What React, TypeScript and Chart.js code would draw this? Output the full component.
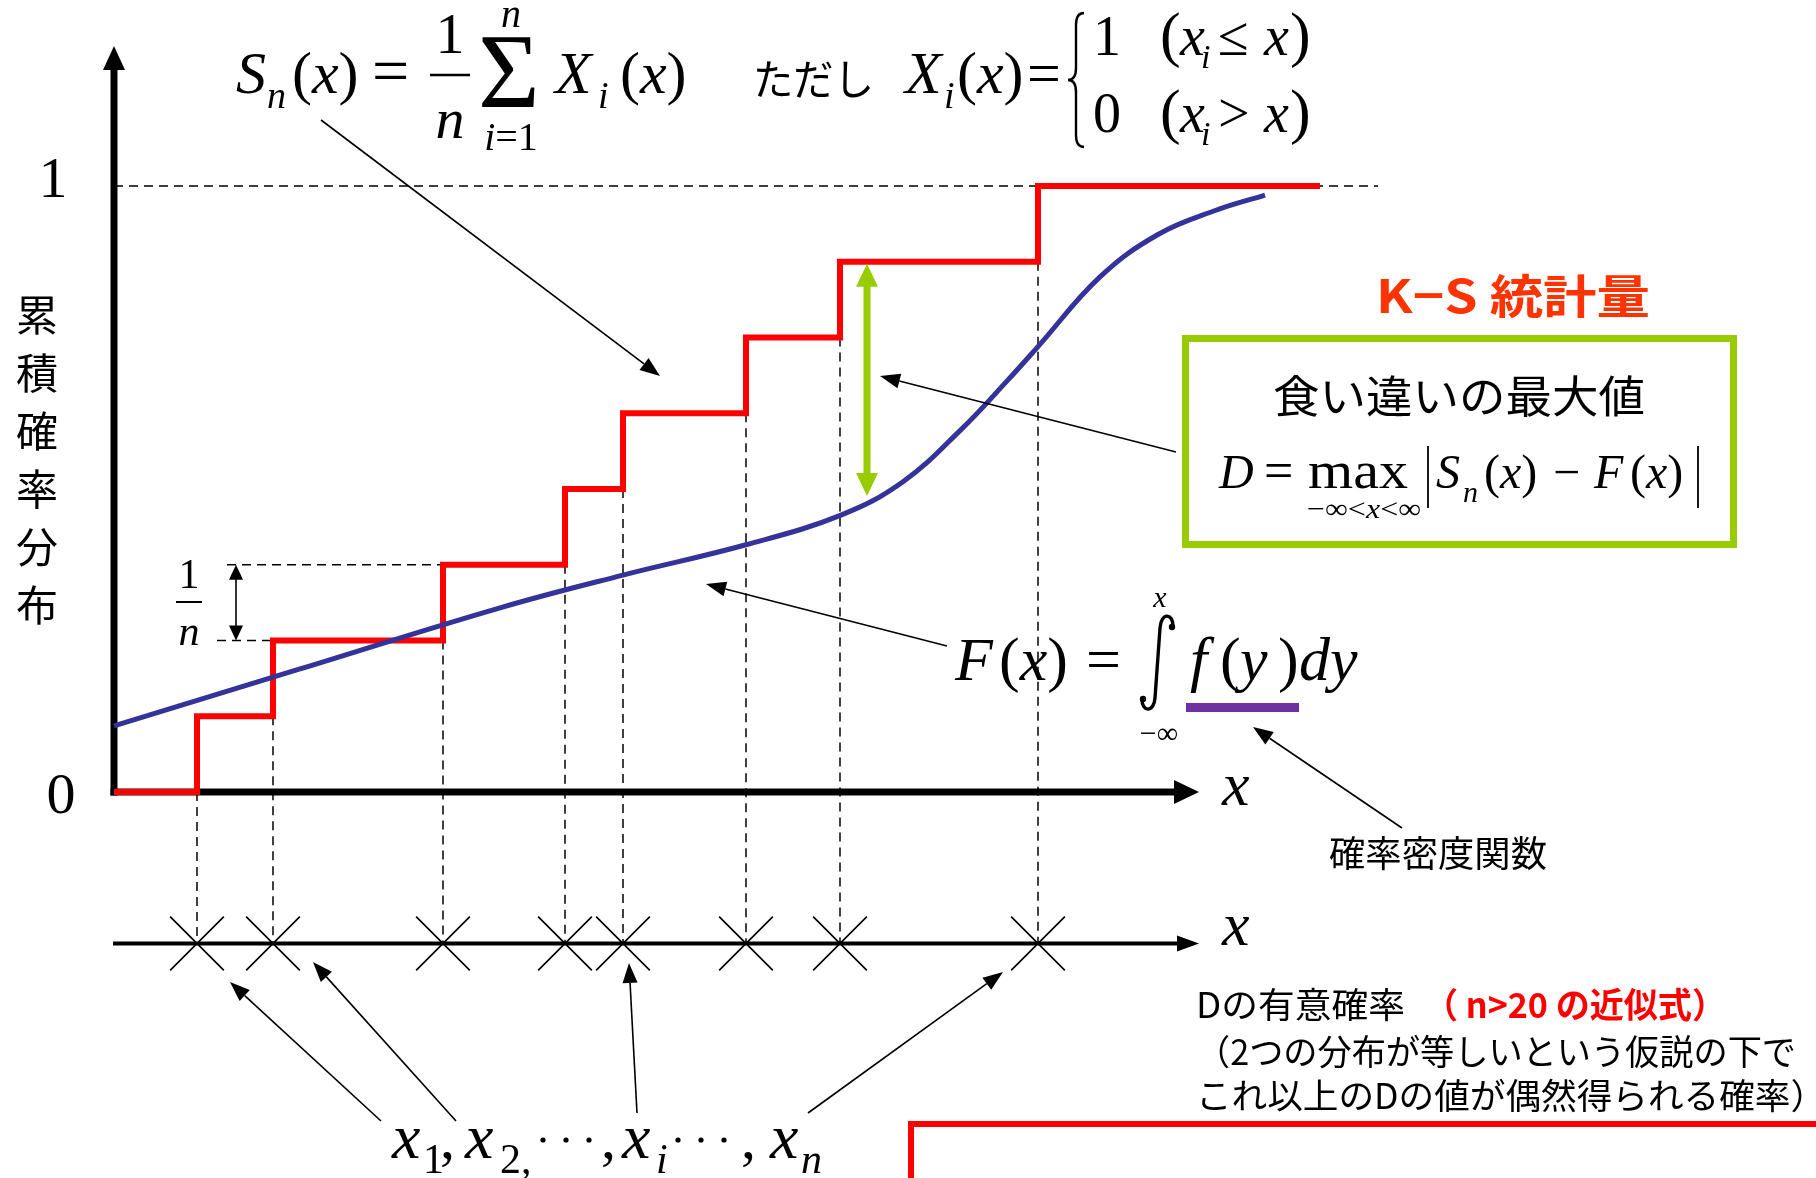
import React, { useEffect, useRef } from 'react';
import { Chart, registerables } from 'chart.js';
Chart.register(...registerables);

// ---- data ----
// observed samples x1..xn on the horizontal axis (arbitrary units)
const sampleX = [0.83, 1.59, 3.29, 4.51, 5.09, 6.32, 7.26, 9.24];
// empirical CDF level reached at each sample (k/n, n = 8)
const ecdfLevels = [0.125, 0.25, 0.375, 0.5, 0.625, 0.75, 0.875, 1.0];
const ecdfRange = [0, 12.06];
// smooth theoretical CDF F(x)
const cdfX = [0, 1.86, 3.86, 5.09, 6.32, 7.27, 7.89, 8.47, 8.94, 9.24, 9.86, 10.44, 11.02, 11.51];
const cdfY = [0.109, 0.203, 0.304, 0.358, 0.408, 0.457, 0.512, 0.598, 0.68, 0.735, 0.85, 0.92, 0.96, 0.985];
// y tick labels
const yTickValues = [0, 1];
const yTickLabels = ['0', '1'];
const axisTitleChars = ['累', '積', '確', '率', '分', '布'];
// 1/n guides
const unitGuideLevels = [0.25, 0.375];
const unitGuideStart = [1.03, 1.13];
const unitArrowX = 1.22;
// maximum discrepancy D
const dMaxX = 7.53;
const dMaxRange = [0.485, 0.875];
const oneLineEnd = 12.64;
const obsAxisY = -0.25;
const xAxisEnd = 10.85;
const yAxisTop = 1.231;

// scale window
const X_MIN = -1.14, X_MAX = 17.02;
const Y_MAX = 792 / 606;
const Y_MIN = Y_MAX - 1178 / 606;

const SERIF = '"Liberation Serif", "Times New Roman", serif';
const SANS = '"Noto Sans CJK JP", "Noto Sans", sans-serif';
const I = (s: number) => `italic ${s}px ${SERIF}`;
const R = (s: number) => `${s}px ${SERIF}`;

function T(ctx: CanvasRenderingContext2D, s: string, x: number, y: number, font: string,
  o: { color?: string; align?: CanvasTextAlign; base?: CanvasTextBaseline; w?: number } = {}) {
  ctx.save();
  ctx.font = font;
  ctx.fillStyle = o.color || '#000';
  ctx.textAlign = o.align || 'left';
  ctx.textBaseline = o.base || 'alphabetic';
  if (o.w) {
    const m = ctx.measureText(s).width;
    ctx.translate(x, y);
    ctx.scale(o.w / m, 1);
    ctx.fillText(s, 0, 0);
  } else ctx.fillText(s, x, y);
  ctx.restore();
}

function run(ctx: CanvasRenderingContext2D, parts: [string, string][], x: number, y: number, align = 'left', w = 0) {
  ctx.save();
  ctx.textBaseline = 'alphabetic';
  ctx.textAlign = 'left';
  ctx.fillStyle = '#000';
  let total = 0;
  for (const [s, f] of parts) { ctx.font = f; total += ctx.measureText(s).width; }
  const k = w ? w / total : 1;
  let cx = align === 'center' ? x - (total * k) / 2 : x;
  ctx.translate(cx, y);
  ctx.scale(k, 1);
  let ox = 0;
  for (const [s, f] of parts) { ctx.font = f; ctx.fillText(s, ox, 0); ox += ctx.measureText(s).width; }
  ctx.restore();
}

function head(ctx: CanvasRenderingContext2D, x1: number, y1: number, x2: number, y2: number, len: number, hw: number) {
  const a = Math.atan2(y2 - y1, x2 - x1);
  const c = Math.cos(a), s = Math.sin(a);
  const bx = x2 - len * c, by = y2 - len * s;
  ctx.beginPath();
  ctx.moveTo(x2, y2);
  ctx.lineTo(bx - hw * s, by + hw * c);
  ctx.lineTo(bx + hw * s, by - hw * c);
  ctx.closePath();
  ctx.fill();
  return [bx, by];
}

function arrow(ctx: CanvasRenderingContext2D, x1: number, y1: number, x2: number, y2: number,
  lw = 1.6, len = 20, hw = 7.5, color = '#000') {
  ctx.save();
  ctx.strokeStyle = color; ctx.fillStyle = color; ctx.lineWidth = lw;
  const [bx, by] = head(ctx, x1, y1, x2, y2, len, hw);
  ctx.beginPath(); ctx.moveTo(x1, y1); ctx.lineTo(bx, by); ctx.stroke();
  ctx.restore();
}

function dblArrow(ctx: CanvasRenderingContext2D, x: number, y1: number, y2: number,
  lw: number, len: number, hw: number, color: string) {
  ctx.save();
  ctx.strokeStyle = color; ctx.fillStyle = color; ctx.lineWidth = lw;
  head(ctx, x, y2, x, y1, len, hw);
  head(ctx, x, y1, x, y2, len, hw);
  ctx.beginPath(); ctx.moveTo(x, y1 + len - 1); ctx.lineTo(x, y2 - len + 1); ctx.stroke();
  ctx.restore();
}

const annot = {
  id: 'annot',
  beforeDraw(chart: any) {
    const c = chart.ctx;
    c.save(); c.fillStyle = '#fff'; c.fillRect(0, 0, chart.width, chart.height); c.restore();
  },
  beforeDatasetsDraw(chart: any) {
    const ctx: CanvasRenderingContext2D = chart.ctx;
    const X = (v: number) => chart.scales.x.getPixelForValue(v);
    const Y = (v: number) => chart.scales.y.getPixelForValue(v);
    ctx.save();
    ctx.strokeStyle = '#000'; ctx.fillStyle = '#000';
    // y axis
    ctx.lineWidth = 7;
    ctx.beginPath(); ctx.moveTo(X(0), Y(0) + 3.5); ctx.lineTo(X(0), Y(yAxisTop) + 20); ctx.stroke();
    head(ctx, X(0), Y(0), X(0), Y(yAxisTop), 24, 11);
    // x axis
    ctx.beginPath(); ctx.moveTo(X(0) - 3.5, Y(0)); ctx.lineTo(X(xAxisEnd) - 20, Y(0)); ctx.stroke();
    head(ctx, X(0), Y(0), X(xAxisEnd), Y(0), 25, 12);
    // observation axis
    ctx.lineWidth = 4;
    ctx.beginPath(); ctx.moveTo(X(0) - 1, Y(obsAxisY)); ctx.lineTo(X(xAxisEnd) - 18, Y(obsAxisY)); ctx.stroke();
    head(ctx, X(0), Y(obsAxisY), X(xAxisEnd), Y(obsAxisY), 22, 8);
    ctx.restore();
  },
  afterDatasetsDraw(chart: any) {
    const ctx: CanvasRenderingContext2D = chart.ctx;
    const X = (v: number) => chart.scales.x.getPixelForValue(v);
    const Y = (v: number) => chart.scales.y.getPixelForValue(v);

    // y tick labels
    yTickValues.forEach((v, i) => {
      const cx = v === 0 ? 61 : 53;
      const dy = v === 0 ? 21 : 11;
      T(ctx, yTickLabels[i], cx, Y(v) + dy, R(58), { align: 'center' });
    });
    // axis title (vertical)
    axisTitleChars.forEach((ch, i) => T(ctx, ch, 37, 315 + i * 58, `42px ${SANS}`, { align: 'center', base: 'middle' }));

    // axis name x
    T(ctx, 'x', 1222, Y(0) + 13, I(62));
    T(ctx, 'x', 1222, Y(obsAxisY) + 1, I(62));

    // green double arrow: maximum discrepancy
    dblArrow(ctx, X(dMaxX), Y(dMaxRange[1]) + 2, Y(dMaxRange[0]) - 2, 7, 23, 11, '#99cc00');

    // 1/n double arrow and label
    dblArrow(ctx, X(unitArrowX), Y(unitGuideLevels[1]), Y(unitGuideLevels[0]), 1.6, 15, 7, '#000');
    T(ctx, '1', 189, 588, R(42), { align: 'center' });
    ctx.save(); ctx.strokeStyle = '#000'; ctx.lineWidth = 2;
    ctx.beginPath(); ctx.moveTo(176, 602); ctx.lineTo(202, 602); ctx.stroke(); ctx.restore();
    T(ctx, 'n', 189, 645, I(42), { align: 'center' });

    // ---- top formula ----
    T(ctx, 'S', 236, 93, I(60));
    T(ctx, 'n', 267, 108, I(38));
    run(ctx, [['(', R(60)], ['x', I(60)], [')', R(60)]], 292, 93);
    T(ctx, '=', 372, 93, R(66));
    T(ctx, '1', 450, 53, R(58), { align: 'center' });
    ctx.save(); ctx.strokeStyle = '#000'; ctx.lineWidth = 2.5;
    ctx.beginPath(); ctx.moveTo(430, 75); ctx.lineTo(470, 75); ctx.stroke(); ctx.restore();
    T(ctx, 'n', 450, 138, I(58), { align: 'center' });
    T(ctx, 'Σ', 478, 107, R(106));
    T(ctx, 'n', 511, 27, I(40), { align: 'center' });
    run(ctx, [['i', I(40)], ['=1', R(40)]], 511, 150, 'center');
    T(ctx, 'X', 555, 93, I(60));
    T(ctx, 'i', 598, 108, I(38));
    run(ctx, [['(', R(60)], ['x', I(60)], [')', R(60)]], 620, 93);

    T(ctx, 'ただし', 753, 79, `42px ${SANS}`, { base: 'middle', w: 121 });
    T(ctx, 'X', 905, 93, I(60));
    T(ctx, 'i', 944, 108, I(38));
    run(ctx, [['(', R(60)], ['x', I(60)], [')', R(60)]], 957, 93);
    T(ctx, '=', 1027, 93, R(60));
    // brace
    ctx.save(); ctx.strokeStyle = '#000'; ctx.lineWidth = 2.4;
    {
      const bx = 1076, top = 13, bot = 147, mid = 80, w = 8;
      ctx.beginPath();
      ctx.moveTo(bx + w, top);
      ctx.quadraticCurveTo(bx, top, bx, top + 12);
      ctx.lineTo(bx, mid - 12);
      ctx.quadraticCurveTo(bx, mid, bx - w, mid);
      ctx.quadraticCurveTo(bx, mid, bx, mid + 12);
      ctx.lineTo(bx, bot - 12);
      ctx.quadraticCurveTo(bx, bot, bx + w, bot);
      ctx.stroke();
    }
    ctx.restore();
    const row = (d: string, op: string, by: number) => {
      T(ctx, d, 1093, by, R(56));
      T(ctx, '(', 1160, by, R(62));
      T(ctx, 'x', 1180, by, I(56));
      T(ctx, 'i', 1201, by + 13, I(34));
      T(ctx, op, 1218, by, R(56));
      T(ctx, 'x', 1264, by, I(56));
      T(ctx, ')', 1290, by, R(62));
    };
    row('1', '≤', 55);
    row('0', '>', 132);

    // ---- K-S label & box ----
    T(ctx, 'K−S 統計量', 1376, 296, `bold 46px ${SANS}`, { color: '#ff3300', base: 'middle', w: 274 });
    ctx.save(); ctx.strokeStyle = '#99cc00'; ctx.lineWidth = 7;
    ctx.strokeRect(1185.5, 338.5, 548, 206); ctx.restore();
    T(ctx, '食い違いの最大値', 1459, 396, `44px ${SANS}`, { align: 'center', base: 'middle', w: 372 });
    T(ctx, 'D', 1219, 488, I(48));
    T(ctx, '=', 1264, 488, R(52));
    T(ctx, 'max', 1308, 488, R(52), { w: 100 });
    run(ctx, [['−∞<', R(28)], ['x', I(28)], ['<∞', R(28)]], 1364, 518, 'center', 114);
    ctx.save(); ctx.strokeStyle = '#000'; ctx.lineWidth = 1.8;
    ctx.beginPath(); ctx.moveTo(1428, 446); ctx.lineTo(1428, 508);
    ctx.moveTo(1698, 446); ctx.lineTo(1698, 508); ctx.stroke(); ctx.restore();
    T(ctx, 'S', 1436, 488, I(48));
    T(ctx, 'n', 1463, 502, I(30));
    run(ctx, [['(', R(48)], ['x', I(48)], [')', R(48)]], 1484, 488);
    T(ctx, '−', 1553, 488, R(48));
    T(ctx, 'F', 1594, 488, I(48));
    run(ctx, [['(', R(48)], ['x', I(48)], [')', R(48)]], 1630, 488);

    // ---- F(x) formula ----
    T(ctx, 'F', 955, 680, I(62));
    run(ctx, [['(', R(62)], ['x', I(62)], [')', R(62)]], 999, 680);
    T(ctx, '=', 1086, 680, R(62));
    ctx.save(); ctx.strokeStyle = '#000'; ctx.fillStyle = '#000'; ctx.lineWidth = 3.4; ctx.lineCap = 'round';
    ctx.beginPath();
    ctx.moveTo(1173, 626);
    ctx.bezierCurveTo(1173, 613, 1161, 612, 1160, 628);
    ctx.lineTo(1155, 698);
    ctx.bezierCurveTo(1154, 713, 1142, 712, 1142, 700);
    ctx.stroke();
    ctx.beginPath(); ctx.arc(1172, 627, 3.2, 0, Math.PI * 2); ctx.fill();
    ctx.beginPath(); ctx.arc(1143, 699, 3.2, 0, Math.PI * 2); ctx.fill();
    ctx.restore();
    T(ctx, 'x', 1160, 607, I(30), { align: 'center' });
    T(ctx, '−∞', 1159, 743, R(30), { align: 'center' });
    T(ctx, 'f', 1190, 680, I(62));
    T(ctx, '(', 1220, 680, R(62));
    T(ctx, 'y', 1240, 680, I(62));
    T(ctx, ')', 1278, 680, R(62));
    T(ctx, 'd', 1299, 680, I(62));
    T(ctx, 'y', 1330, 680, I(62));
    ctx.save(); ctx.fillStyle = '#7030a0'; ctx.fillRect(1186, 703, 113, 9); ctx.restore();
    T(ctx, '確率密度関数', 1438, 853, `36px ${SANS}`, { align: 'center', base: 'middle', w: 218 });

    // ---- sample label ----
    T(ctx, 'x', 392, 1158, I(64));
    T(ctx, '1', 423, 1173, R(42));
    T(ctx, ',', 440, 1158, R(60));
    T(ctx, 'x', 465, 1158, I(64));
    T(ctx, '2,', 500, 1173, R(42));
    T(ctx, ',', 601, 1158, R(60));
    T(ctx, 'x', 622, 1158, I(64));
    T(ctx, 'i', 656, 1173, I(42));
    T(ctx, ',', 741, 1158, R(60));
    T(ctx, 'x', 770, 1158, I(64));
    T(ctx, 'n', 801, 1173, I(42));
    ctx.save(); ctx.fillStyle = '#000';
    [543, 566, 589, 678, 701, 724].forEach(cx => { ctx.beginPath(); ctx.arc(cx, 1140, 2.6, 0, Math.PI * 2); ctx.fill(); });
    ctx.restore();

    // ---- leader arrows ----
    arrow(ctx, 321, 120, 660, 376);
    arrow(ctx, 1176, 452, 880, 376);
    arrow(ctx, 947, 646, 706, 584);
    arrow(ctx, 1402, 828, 1253, 727);
    arrow(ctx, 381, 1121, 230, 982);
    arrow(ctx, 456, 1121, 313, 962);
    arrow(ctx, 637, 1113, 629, 963);
    arrow(ctx, 808, 1113, 1003, 972);

    // ---- bottom-right text ----
    T(ctx, 'Dの有意確率', 1196, 1005, `35px ${SANS}`, { base: 'middle', w: 209 });
    T(ctx, '（ n>20 の近似式）', 1424, 1005, `bold 35px ${SANS}`, { base: 'middle', color: '#ff0000', w: 302 });
    T(ctx, '（2つの分布が等しいという仮説の下で', 1196, 1052, `35px ${SANS}`, { base: 'middle', w: 600 });
    T(ctx, 'これ以上のDの値が偶然得られる確率）', 1196, 1096, `35px ${SANS}`, { base: 'middle', w: 630 });
    ctx.save(); ctx.strokeStyle = '#ff0000'; ctx.lineWidth = 6;
    ctx.strokeRect(911, 1124, 1000, 200); ctx.restore();
  },
};

export default function App() {
  const ref = useRef<HTMLCanvasElement>(null);
  useEffect(() => {
    const ecdfData = [
      { x: ecdfRange[0], y: 0 },
      ...sampleX.map((x, i) => ({ x, y: ecdfLevels[i] })),
      { x: ecdfRange[1], y: 1 },
    ];
    const cdfData = cdfX.map((x, i) => ({ x, y: cdfY[i] }));
    const dropData: any[] = sampleX.flatMap((x, i) => [
      { x, y: i === 0 ? 0 : ecdfLevels[i - 1] },
      { x, y: obsAxisY },
      { x, y: null },
    ]);
    const guideData: any[] = unitGuideLevels.flatMap((lv, i) => [
      { x: unitGuideStart[i], y: lv },
      { x: sampleX[i + 1], y: lv },
      { x: sampleX[i + 1], y: null },
    ]);
    const oneData = [{ x: 0, y: 1 }, { x: oneLineEnd, y: 1 }];
    const markData = sampleX.map(x => ({ x, y: obsAxisY }));
    const dashed = { borderColor: '#000', borderWidth: 1.5, borderDash: [9, 6], pointRadius: 0, showLine: true, spanGaps: false, fill: false };

    const chart = new Chart(ref.current!, {
      type: 'scatter',
      data: {
        datasets: [
          { label: 'F(x)', data: cdfData, showLine: true, borderColor: '#333399', borderWidth: 5, pointRadius: 0, tension: 0.4, fill: false } as any,
          { label: 'Sn(x)', data: ecdfData, showLine: true, stepped: 'before', borderColor: '#ff0000', borderWidth: 6, pointRadius: 0, borderJoinStyle: 'miter', fill: false } as any,
          { label: 'marks', data: markData, showLine: false, pointStyle: 'crossRot', pointRadius: 38, pointBorderColor: '#000', pointBorderWidth: 1.6, pointBackgroundColor: 'rgba(0,0,0,0)' } as any,
          { label: 'drops', data: dropData, ...dashed } as any,
          { label: 'guides', data: guideData, ...dashed } as any,
          { label: 'one', data: oneData, ...dashed } as any,
        ],
      },
      options: {
        animation: false,
        responsive: false,
        devicePixelRatio: 1,
        events: [],
        layout: { padding: 0, autoPadding: false },
        plugins: { legend: { display: false }, tooltip: { enabled: false }, title: { display: false } },
        scales: {
          x: { type: 'linear', min: X_MIN, max: X_MAX, display: false },
          y: { type: 'linear', min: Y_MIN, max: Y_MAX, display: false },
        },
      } as any,
      plugins: [annot as any],
    });
    return () => chart.destroy();
  }, []);
  return (
    <div style={{ position: 'fixed', left: 0, top: 0, width: 1816, height: 1178, background: '#fff' }}>
      <canvas ref={ref} width={1816} height={1178} style={{ display: 'block', width: 1816, height: 1178 }} />
    </div>
  );
}
